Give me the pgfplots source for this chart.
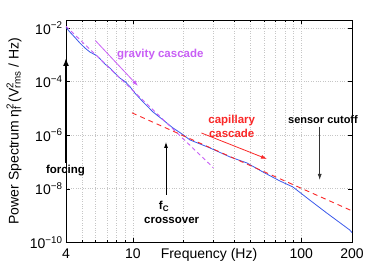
\documentclass[border=0pt]{standalone}
\usepackage{pgfplots}
\pgfplotsset{compat=1.18}
\usepackage{fontspec}
\setmainfont{Liberation Sans}
\usetikzlibrary{arrows.meta}
\definecolor{myblue}{RGB}{60,90,235}
\definecolor{mypurple}{RGB}{200,95,245}
\definecolor{myred}{RGB}{250,40,40}
\newcommand{\supsub}[2]{\rlap{\textsuperscript{#1}}\textsubscript{#2}}
\begin{document}
\begin{tikzpicture}
\useasboundingbox (-66pt,-30.7pt) rectangle (323pt,242.3pt);
\begin{axis}[at={(0pt,0pt)}, anchor=south west, scale only axis,
  width=286pt, height=222.3pt,
  xmode=log, ymode=log, xmin=4, xmax=200, ymin=1e-10, ymax=2e-2,
  xtick={4,10,100,200}, xticklabels={4,10,100,200},
  minor xtick={5,6,7,8,9,20,30,40,50,60,70,80,90},
  ytick={1e-10,1e-8,1e-6,1e-4,1e-2},
  yticklabels={10\textsuperscript{−10},10\textsuperscript{−8},10\textsuperscript{−6},10\textsuperscript{−4},10\textsuperscript{−2}},
  yminorticks=false,
  grid=both,
  major grid style={dotted, gray!45, line width=0.5pt},
  minor grid style={dotted, gray!45, line width=0.5pt},
  tick align=inside, major tick length=4pt, minor tick length=2.5pt,
  tick style={black, line width=0.4pt},
  axis line style={line width=0.5pt},
  ticklabel style={font=\fontsize{14}{16}\selectfont},
  xticklabel style={anchor=base, yshift=-16pt},
  xlabel={Frequency (Hz)},
  ylabel={Power Spectrum η\supsub{2}{f} (V\supsub{2}{rms} / Hz)},
  label style={font=\fontsize{14}{16}\selectfont},
  xlabel style={at={(axis description cs:0.5,0)}, anchor=base, yshift=-16pt},
  ylabel style={at={(axis description cs:-0.1818,0.5)}, anchor=center},
]
\addplot[myblue, line width=0.8pt] coordinates {
(4.00,1.05e-2) (4.22,7.08e-3) (4.52,4.46e-3) (4.84,2.75e-3) (5.19,1.79e-3)
(5.55,1.27e-3) (5.81,1.09e-3) (6.08,9.46e-4) (6.37,7.11e-4) (6.82,4.51e-4)
(7.30,3.20e-4) (7.81,2.08e-4) (8.37,1.35e-4) (8.96,1.01e-4) (9.59,6.56e-5)
(10.27,3.72e-5) (11.46,1.76e-5) (13.13,7.43e-6) (15.06,3.73e-6) (17.26,1.87e-6)
(19.52,1.12e-6) (21.78,6.67e-7) (24.97,4.73e-7) (28.6,3.35e-7) (37.6,1.55e-7)
(47.5,9.20e-8) (59.0,4.25e-8) (74.5,1.96e-8) (89.0,1.17e-8) (112,3.81e-9)
(141.6,1.24e-9) (194,2.88e-10) (200,2.29e-10)};
\addplot[mypurple, line width=0.9pt, dash pattern=on 4pt off 3pt] coordinates {(4,1.16e-2) (30,6.1e-8)};
\addplot[myred, line width=0.9pt, dash pattern=on 5pt off 4pt] coordinates {(9.86,6.83e-6) (200,1.49e-9)};
\end{axis}
% annotations
\draw[mypurple, line width=0.8pt, -{Latex[length=6pt,width=4pt]}] (29.5pt,201.6pt) -- (72pt,156.3pt);
\node[mypurple, anchor=west, font=\fontsize{11.5}{14}\selectfont\bfseries, inner sep=0pt] at (51pt,187.3pt) {gravity cascade};
\draw[myred, line width=0.8pt, -{Latex[length=6pt,width=4pt]}] (135.5pt,109.3pt) -- (201pt,83.3pt);
\node[myred, align=center, font=\fontsize{11.5}{14}\selectfont\bfseries, inner sep=0pt] at (165.7pt,116pt) {capillary\\cascade};
\node[black, font=\fontsize{11}{13}\selectfont\bfseries, inner sep=0pt] at (257pt,122.3pt) {sensor cutoff};
\draw[black!80, line width=0.8pt, -{Latex[length=6pt,width=4pt]}] (253.7pt,115.6pt) -- (253.7pt,62.3pt);
\draw[black, line width=1.5pt, -{Latex[length=8pt,width=6pt]}] (0pt,79.3pt) -- (0pt,184.3pt);
\node[black, font=\fontsize{11.5}{14}\selectfont\bfseries, inner sep=0pt] at (-0.5pt,71.8pt) {forcing};
\draw[black, line width=0.8pt, -{Latex[length=6pt,width=4pt]}] (100pt,47.3pt) -- (100pt,100.3pt);
\node[black, font=\fontsize{11.5}{14}\selectfont\bfseries, inner sep=0pt] at (98pt,36pt) {f\textsubscript{C}};
\node[black, font=\fontsize{11.5}{14}\selectfont\bfseries, inner sep=0pt] at (105.7pt,22.3pt) {crossover};
\end{tikzpicture}
\end{document}
